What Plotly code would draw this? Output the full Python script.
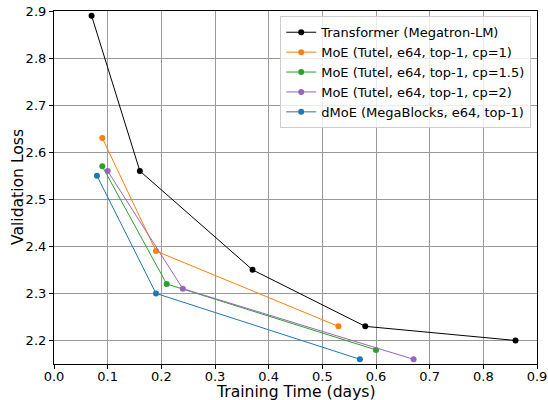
import plotly.graph_objects as go

series_names = [
    "Transformer (Megatron-LM)",
    "MoE (Tutel, e64, top-1, cp=1)",
    "MoE (Tutel, e64, top-1, cp=1.5)",
    "MoE (Tutel, e64, top-1, cp=2)",
    "dMoE (MegaBlocks, e64, top-1)",
]
transformer_x = [0.07, 0.16, 0.37, 0.58, 0.86]
transformer_y = [2.89, 2.56, 2.35, 2.23, 2.20]
moe_cp1_x = [0.09, 0.19, 0.53]
moe_cp1_y = [2.63, 2.39, 2.23]
moe_cp15_x = [0.09, 0.21, 0.60]
moe_cp15_y = [2.57, 2.32, 2.18]
moe_cp2_x = [0.10, 0.24, 0.67]
moe_cp2_y = [2.56, 2.31, 2.16]
dmoe_x = [0.08, 0.19, 0.57]
dmoe_y = [2.55, 2.30, 2.16]

x_title = "Training Time (days)"
y_title = "Validation Loss"

colors = ["#000000", "#ff7f0e", "#2ca02c", "#9467bd", "#1f77b4"]
xs = [transformer_x, moe_cp1_x, moe_cp15_x, moe_cp2_x, dmoe_x]
ys = [transformer_y, moe_cp1_y, moe_cp15_y, moe_cp2_y, dmoe_y]

x_ticks = [0.0, 0.1, 0.2, 0.3, 0.4, 0.5, 0.6, 0.7, 0.8, 0.9]
y_ticks = [2.2, 2.3, 2.4, 2.5, 2.6, 2.7, 2.8, 2.9]

fig = go.Figure()
for name, x, y, c in zip(series_names, xs, ys, colors):
    fig.add_trace(go.Scatter(
        x=x, y=y, name=name, mode="lines+markers",
        line=dict(color=c, width=1),
        marker=dict(color=c, size=6),
    ))

font = "DejaVu Sans"
W, H = 548, 400
ml, mr, mt, mb = 53.5, 11, 11, 36
fig.update_layout(
    width=W, height=H,
    margin=dict(l=ml, r=mr, t=mt, b=mb),
    paper_bgcolor="white", plot_bgcolor="white",
    font=dict(family=font, size=13, color="black"),
    showlegend=True,
    legend=dict(
        x=0.988, y=0.985, xanchor="right", yanchor="top",
        bgcolor="rgba(255,255,255,0.8)", bordercolor="#cccccc", borderwidth=1,
        font=dict(family=font, size=13), tracegroupgap=0,
        itemwidth=30,
    ),
    xaxis=dict(
        range=[0, 0.9], tickvals=x_ticks, ticktext=[f"{v:.1f}" for v in x_ticks],
        showgrid=True, gridcolor="#999999", gridwidth=1,
        showline=True, linecolor="black", linewidth=1.2, mirror=True,
        ticks="outside", ticklen=4, tickcolor="black",
        ticklabelstandoff=-4,
        zeroline=False, automargin=False,
    ),
    yaxis=dict(
        range=[2.15, 2.9], tickvals=y_ticks, ticktext=[f"{v:.1f}" for v in y_ticks],
        showgrid=True, gridcolor="#999999", gridwidth=1,
        showline=True, linecolor="black", linewidth=1.2, mirror=True,
        ticks="outside", ticklen=4, tickcolor="black",
        zeroline=False, automargin=False,
    ),
    annotations=[
        dict(text=x_title, xref="paper", yref="paper", x=0.5, y=-(392 - (H - mb)) / (H - mt - mb),
             xanchor="center", yanchor="middle", showarrow=False, font=dict(size=15.6)),
        dict(text=y_title, xref="paper", yref="paper", x=-(ml - 17) / (W - ml - mr), y=0.5,
             xanchor="center", yanchor="middle", showarrow=False, textangle=-90, font=dict(size=15.6)),
    ],
)

fig.write_html(
    "out.html",
    config={"displayModeBar": False},
    post_script="document.body.style.margin='0';document.body.style.padding='0';",
)
